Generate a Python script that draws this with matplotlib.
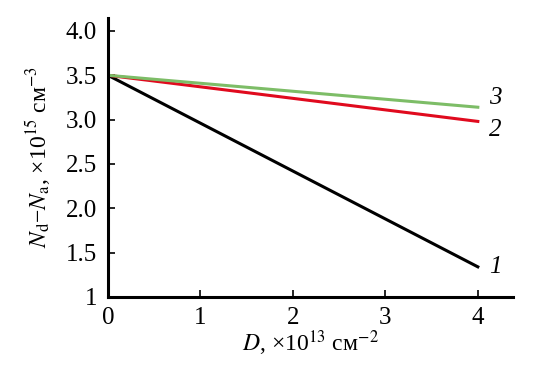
import matplotlib
matplotlib.use('Agg')
import matplotlib.pyplot as plt

# dados
dose = [0, 4]
curva1 = [3.5, 1.34]
curva2 = [3.5, 2.98]
curva3 = [3.5, 3.14]
rotulos = ['1', '2', '3']
cores = ['#000000', '#e00a1e', '#7dbd67']
yticks = [1, 1.5, 2.0, 2.5, 3.0, 3.5, 4.0]
ytick_labels = ['1', '1.5', '2.0', '2.5', '3.0', '3.5', '4.0']
xticks = [0, 1, 2, 3, 4]

plt.rcParams['font.family'] = 'Liberation Serif'
plt.rcParams['mathtext.fontset'] = 'stix'

fig = plt.figure(figsize=(5.36, 3.79), dpi=100)
ax = fig.add_axes([0.2015, 0.2164, 0.7555, 0.737])

for y, cor in zip([curva1, curva2, curva3], cores):
    ax.plot(dose, y, color=cor, lw=2.2)

# números das curvas
ax.text(4.12, curva1[1], rotulos[0], style='italic', fontsize=18, va='center')
ax.text(4.12, curva2[1] - 0.1, rotulos[1], style='italic', fontsize=18, va='center')
ax.text(4.12, curva3[1] + 0.1, rotulos[2], style='italic', fontsize=18, va='center')

ax.set_xlim(0, 4.38)
ax.set_ylim(1, 4.15)
ax.set_xticks(xticks)
ax.set_xticklabels([str(v) for v in xticks])
ax.set_yticks(yticks)
ax.set_yticklabels(ytick_labels)
ax.tick_params(direction='in', length=5, width=1.2, labelsize=18)
ax.tick_params(axis='y', pad=8)
ax.tick_params(axis='x', pad=7)

for s in ['top', 'right']:
    ax.spines[s].set_visible(False)
for s in ['left', 'bottom']:
    ax.spines[s].set_linewidth(2.2)

ax.set_xlabel('$D$, ×10$^{13}$ см$^{-2}$', fontsize=17, labelpad=0)
ax.set_ylabel('$N_\\mathrm{d}$−$N_\\mathrm{a}$, ×10$^{15}$ см$^{-3}$', fontsize=17, labelpad=9)

fig.savefig('out.png', dpi=100)
